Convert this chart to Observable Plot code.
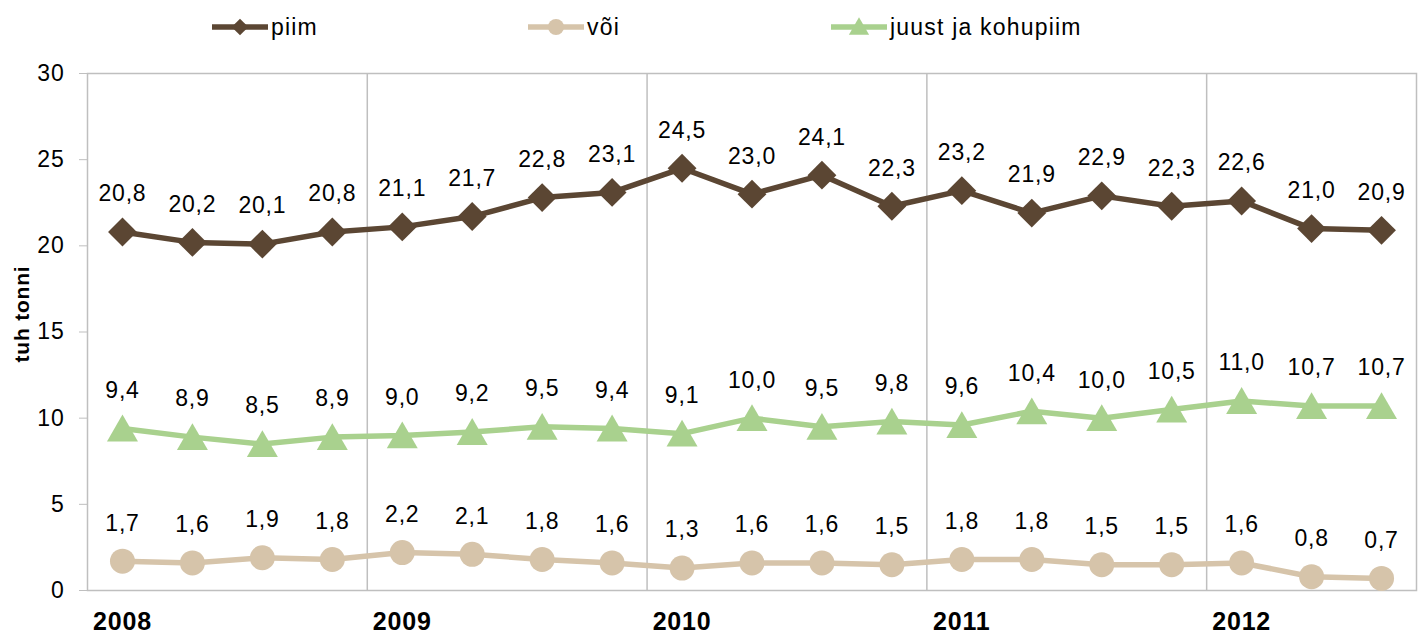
<!DOCTYPE html>
<html>
<head>
<meta charset="utf-8">
<script src="https://cdn.jsdelivr.net/npm/d3@7"></script>
<script src="https://cdn.jsdelivr.net/npm/@observablehq/plot@0.6"></script>
<style>
  body { margin: 0; background: #fff; font-family: "Liberation Sans", Arial, sans-serif; }
  #legend { position: relative; height: 53px; width: 1422px; }
  .item { position: absolute; top: 12px; height: 30px; display: flex; align-items: center; font-size: 23px; letter-spacing: 1.2px; color: #000; }
  .item svg { display: block; }
</style>
</head>
<body>
<div id="legend"></div>
<div id="chart"></div>
<script>
const quarters = ["2008 I","2008 II","2008 III","2008 IV","2009 I","2009 II","2009 III","2009 IV","2010 I","2010 II","2010 III","2010 IV","2011 I","2011 II","2011 III","2011 IV","2012 I","2012 II","2012 III"];
const years = ["2008","2009","2010","2011","2012"];
const seriesNames = ["piim","või","juust ja kohupiim"];
const piim  = [20.8,20.2,20.1,20.8,21.1,21.7,22.8,23.1,24.5,23.0,24.1,22.3,23.2,21.9,22.9,22.3,22.6,21.0,20.9];
const voi   = [1.7,1.6,1.9,1.8,2.2,2.1,1.8,1.6,1.3,1.6,1.6,1.5,1.8,1.8,1.5,1.5,1.6,0.8,0.7];
const juust = [9.4,8.9,8.5,8.9,9.0,9.2,9.5,9.4,9.1,10.0,9.5,9.8,9.6,10.4,10.0,10.5,11.0,10.7,10.7];
const yTicks = [0,5,10,15,20,25,30];

const colors = {"piim":"#5b4633","või":"#d6c4aa","juust ja kohupiim":"#a9d18e"};
const symbols = {"piim":"diamond2","või":"circle","juust ja kohupiim":"triangle"};
const radii = {"piim":13,"või":12.5,"juust ja kohupiim":11.5};
const symDy = {"piim":0,"või":0,"juust ja kohupiim":4};
const d3sym = {"diamond2": d3.symbolDiamond2, "circle": d3.symbolCircle, "triangle": d3.symbolTriangle};

const valuesBy = {"piim": piim, "või": voi, "juust ja kohupiim": juust};
const data = seriesNames.flatMap(s => valuesBy[s].map((v, i) => ({series: s, i, q: quarters[i], value: v})));
const fmt = v => v.toFixed(1).replace(".", ",");

// year boundaries and first-quarter positions
const yearStart = years.map((y) => quarters.findIndex(q => q.startsWith(y)));
const boundaries = yearStart.slice(1).map(i => i - 0.5);

// Legend
const legend = document.getElementById("legend");
const legendX = {"piim": 212, "või": 528, "juust ja kohupiim": 831};
const legendR = {"piim": 7.5, "või": 8, "juust ja kohupiim": 7.5};
for (const s of seriesNames) {
  const div = document.createElement("div");
  div.className = "item";
  div.style.left = legendX[s] + "px";
  const w = 56, h = 30;
  const svg = d3.create("svg").attr("width", w).attr("height", h);
  svg.append("line").attr("x1", 0).attr("x2", w).attr("y1", h/2).attr("y2", h/2)
    .attr("stroke", colors[s]).attr("stroke-width", 5.5).attr("stroke-linecap", "round");
  const r = legendR[s];
  svg.append("path").attr("d", d3.symbol(d3sym[symbols[s]], Math.PI * r * r)())
    .attr("transform", `translate(${w/2},${h/2 + (s === "juust ja kohupiim" ? 2 : 0)})`).attr("fill", colors[s]);
  div.appendChild(svg.node());
  const span = document.createElement("span");
  span.textContent = s;
  span.style.marginLeft = "3px";
  div.appendChild(span);
  legend.appendChild(div);
}

const chart = Plot.plot({
  width: 1422,
  height: 584,
  marginLeft: 87,
  marginRight: 6,
  marginTop: 20,
  marginBottom: 47,
  style: {fontFamily: "Liberation Sans, Arial, sans-serif", fontSize: "23px", letterSpacing: "0.8px", color: "#000", background: "#fff"},
  x: {domain: [-0.5, quarters.length - 0.5]},
  y: {domain: [0, 30]},
  marks: [
    Plot.ruleX(boundaries, {stroke: "#bfbfbf", strokeWidth: 1.5}),
    Plot.frame({stroke: "#bfbfbf", strokeWidth: 1.5}),
    Plot.axisY({ticks: yTicks, tickSize: 8, tickPadding: 15, stroke: "#bfbfbf", fill: "#000", label: null}),
    Plot.axisX({ticks: yearStart, tickFormat: (d) => years[yearStart.indexOf(d)], tickSize: 0, tickPadding: 22, fontWeight: "bold", fontSize: 25, fill: "#000", label: null}),
    Plot.text(["tuh tonni"], {frameAnchor: "left", textAnchor: "middle", dx: -65, dy: -18, rotate: -90, fontWeight: "bold", fontSize: 21, fill: "#000"}),
    Plot.line(data, {x: "i", y: "value", z: "series", stroke: d => colors[d.series], strokeWidth: 5.5, strokeLinejoin: "round", strokeLinecap: "round"}),
    ...seriesNames.map(s => Plot.dot(data.filter(d => d.series === s), {x: "i", y: "value", symbol: symbols[s], r: radii[s], dy: symDy[s], fill: colors[s], stroke: "none"})),
    Plot.text(data, {x: "i", y: "value", text: d => fmt(d.value), dy: -38, fill: "#000", fontSize: 23})
  ]
});
document.getElementById("chart").appendChild(chart);
</script>
</body>
</html>
